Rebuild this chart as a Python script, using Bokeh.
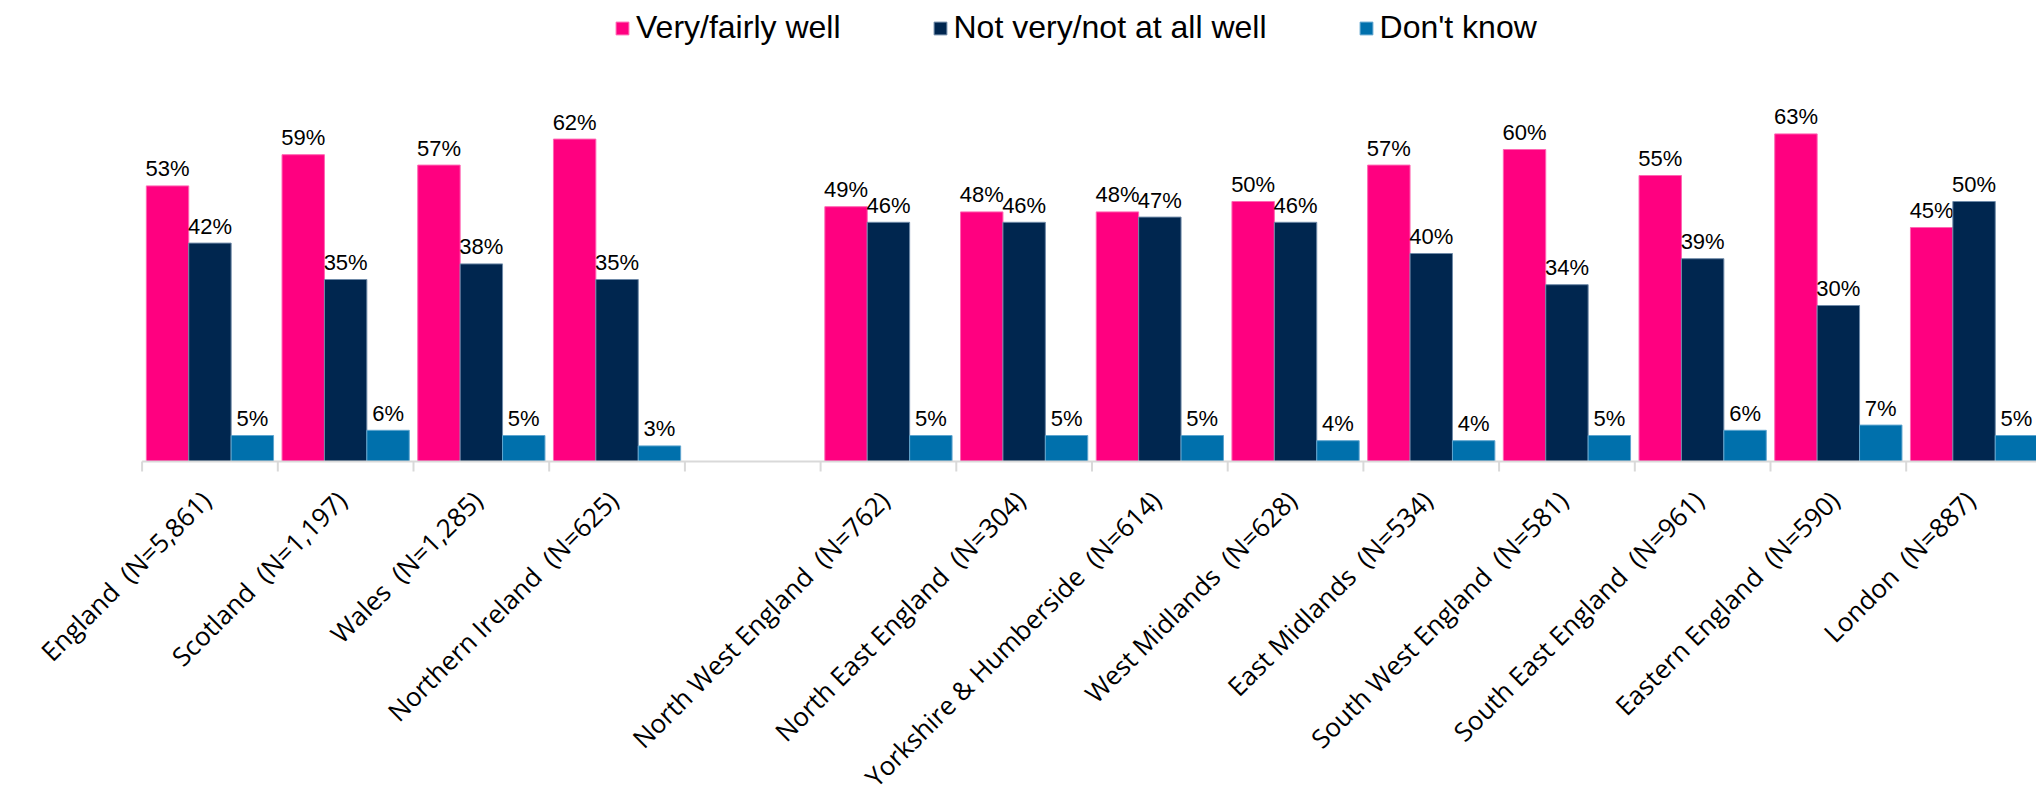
import math
from bokeh.plotting import figure
from bokeh.models import ColumnDataSource, Legend, LegendItem, Range1d
from bokeh.core.properties import value
from bokeh.embed import file_html
from bokeh.resources import INLINE

# ---- data -------------------------------------------------------------
regions = ["England", "Scotland", "Wales", "Northern Ireland", "",
           "North West England", "North East England", "Yorkshire & Humberside",
           "West Midlands", "East Midlands", "South West England",
           "South East England", "Eastern England", "London"]
sample_sizes = ["5,861", "1,197", "1,285", "625", "",
                "762", "304", "614", "628", "534", "581", "961", "590", "887"]
very_fairly_well = [53, 59, 57, 62, None, 49, 48, 48, 50, 57, 60, 55, 63, 45]
not_very_well = [42, 35, 38, 35, None, 46, 46, 47, 46, 40, 34, 39, 30, 50]
dont_know = [5, 6, 5, 3, None, 5, 5, 5, 4, 4, 5, 6, 7, 5]
series_names = ["Very/fairly well", "Not very/not at all well", "Don't know"]
series_values = [very_fairly_well, not_very_well, dont_know]
colors = ["#FF0080", "#00264F", "#0070AC"]
edge_colors = ["#FF66B3", "#6F8AA8", "#5FA5CF"]

# ---- layout -----------------------------------------------------------
BAR_W = 0.3125
n = len(regions)
centers = [i + 0.5 for i in range(n)]
boundaries = list(range(n + 1))

W, H = 2036, 801
SLOT_PX = 135.7      # pixels per category slot
LEFT_PX = 141.6      # pixel column where the first slot starts
PX_PER_PCT = 5.2
BASE_Y = 461         # pixel row of the category baseline

p = figure(width=W, height=H, output_backend="svg", toolbar_location=None,
           x_range=Range1d(-LEFT_PX / SLOT_PX, (W - LEFT_PX) / SLOT_PX),
           y_range=Range1d(-(H - BASE_Y) / PX_PER_PCT, BASE_Y / PX_PER_PCT),
           min_border_left=0, min_border_right=0, min_border_top=0,
           min_border_bottom=0)
p.outline_line_color = None
p.xgrid.visible = False
p.ygrid.visible = False
p.xaxis.visible = False
p.yaxis.visible = False
p.background_fill_color = "white"
p.border_fill_color = "white"

renderers = []
for k, (name, vals, col, ecol) in enumerate(zip(series_names, series_values, colors, edge_colors)):
    xs, tops, txt = [], [], []
    for c, v in zip(centers, vals):
        if v is None:
            continue
        xs.append(c + (k - 1) * BAR_W)
        tops.append(v)
        txt.append(f"{v}%")
    src = ColumnDataSource(dict(x=xs, top=tops, txt=txt))
    r = p.vbar(x="x", top="top", width=BAR_W, bottom=0, source=src,
               fill_color=col, line_color=ecol, line_width=1)
    renderers.append(r)
    p.text(x="x", y="top", text="txt", source=src, text_align="center",
           text_baseline="alphabetic", y_offset=-17, text_font=value("Liberation Sans"),
           text_font_size="22px", text_color="#000000")

# category axis: baseline, boundary ticks and rotated category names
p.segment(x0=[boundaries[0]], y0=[0], x1=[boundaries[-1]], y1=[0],
          line_color="#D9D9D9", line_width=2)
tick_src = ColumnDataSource(dict(x=boundaries, y=[0] * len(boundaries)))
p.ray(x="x", y="y", source=tick_src, length=10, length_units="screen",
      angle=-math.pi / 2, line_color="#D9D9D9", line_width=2)

lab_x, lab_txt = [], []
for c, r, s in zip(centers, regions, sample_sizes):
    if r:
        lab_x.append(c)
        lab_txt.append(f"{r}\u00a0\u00a0(N={s})")
lab_src = ColumnDataSource(dict(x=lab_x, y=[0] * len(lab_x), t=lab_txt))
p.text(x="x", y="y", text="t", source=lab_src, angle=math.pi / 4,
       text_align="right", text_baseline="alphabetic", x_offset=-4, y_offset=34,
       text_font=value("Open Sans"), text_font_size="26px", text_color="#000000")

legend = Legend(items=[LegendItem(label=nm, renderers=[r]) for nm, r in zip(series_names, renderers)],
                orientation="horizontal", location=(614, 755),
                glyph_width=16, glyph_height=16, label_standoff=6, spacing=91,
                padding=0, margin=0, border_line_color=None, background_fill_alpha=0,
                label_text_font="Liberation Sans", label_text_font_size="32px",
                label_text_color="#000000")
p.add_layout(legend, "center")

open("out.html", "w").write(file_html(p, INLINE))
